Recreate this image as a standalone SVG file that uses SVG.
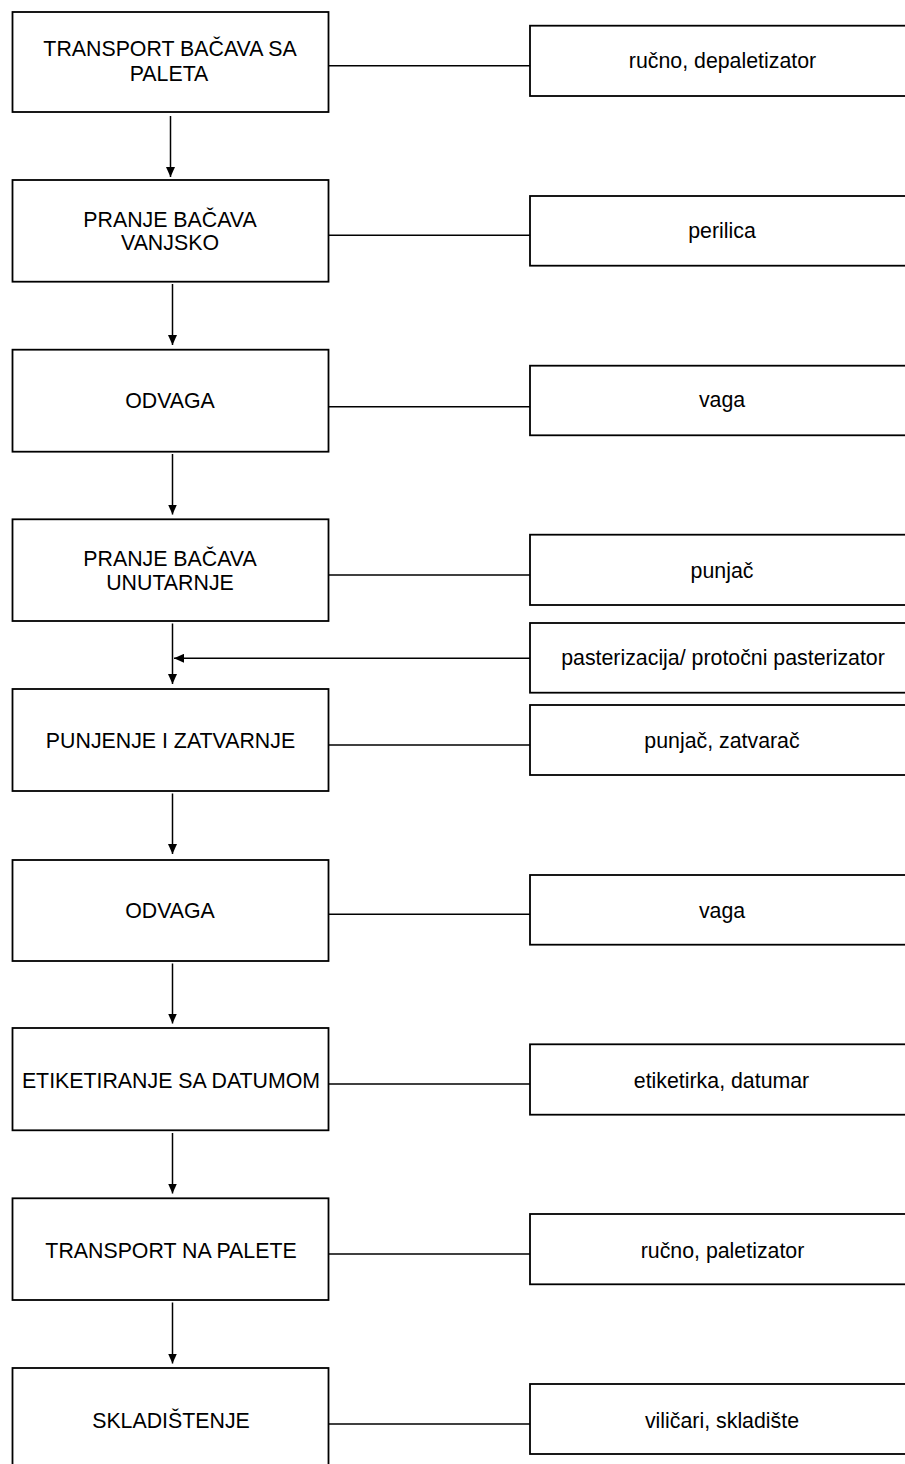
<svg xmlns="http://www.w3.org/2000/svg" width="905" height="1464" viewBox="0 0 905 1464">
<defs>
<style>
.box{fill:#fff;stroke:#000;stroke-width:1.8}
.ln{fill:none;stroke:#000;stroke-width:1.5}
.t{font-family:"Liberation Sans",Arial,sans-serif;font-size:21.33px;fill:#000;text-anchor:middle}
</style>
<marker id="ah" markerUnits="userSpaceOnUse" markerWidth="10" markerHeight="9" refX="10" refY="4.5" orient="auto" viewBox="0 0 10 9">
<path d="M0,0 L10,4.5 L0,9 z" fill="#000"/>
</marker>
</defs>
<rect width="905" height="1464" fill="#fff"/>
<g id="connectors">
<line class="ln" x1="328" y1="65.7" x2="530" y2="65.7"/>
<line class="ln" x1="328" y1="235.3" x2="530" y2="235.3"/>
<line class="ln" x1="328" y1="406.7" x2="530" y2="406.7"/>
<line class="ln" x1="328" y1="575" x2="530" y2="575"/>
<line class="ln" x1="328" y1="745" x2="530" y2="745"/>
<line class="ln" x1="328" y1="914.3" x2="530" y2="914.3"/>
<line class="ln" x1="328" y1="1084" x2="530" y2="1084"/>
<line class="ln" x1="328" y1="1254" x2="530" y2="1254"/>
<line class="ln" x1="328" y1="1424" x2="530" y2="1424"/>
<line class="ln" x1="170.5" y1="116" x2="170.5" y2="177" marker-end="url(#ah)"/>
<line class="ln" x1="172.5" y1="284" x2="172.5" y2="345" marker-end="url(#ah)"/>
<line class="ln" x1="172.5" y1="454" x2="172.5" y2="514.5" marker-end="url(#ah)"/>
<line class="ln" x1="172.5" y1="623.5" x2="172.5" y2="684" marker-end="url(#ah)"/>
<line class="ln" x1="530" y1="658.3" x2="174" y2="658.3" marker-end="url(#ah)"/>
<line class="ln" x1="172.5" y1="793.5" x2="172.5" y2="854" marker-end="url(#ah)"/>
<line class="ln" x1="172.5" y1="963.5" x2="172.5" y2="1023.5" marker-end="url(#ah)"/>
<line class="ln" x1="172.5" y1="1133" x2="172.5" y2="1193.5" marker-end="url(#ah)"/>
<line class="ln" x1="172.5" y1="1302.5" x2="172.5" y2="1363.5" marker-end="url(#ah)"/>
</g>
<g id="n1"><rect class="box" x="12.5" y="12" width="316" height="100"/><text class="t" x="170" y="56">TRANSPORT  BAČAVA SA</text><text class="t" x="169" y="80.7">PALETA</text></g>
<g id="n2"><rect class="box" x="12.5" y="180" width="316" height="101.7"/><text class="t" x="170" y="226.7">PRANJE  BAČAVA</text><text class="t" x="170" y="250">VANJSKO</text></g>
<g id="n3"><rect class="box" x="12.5" y="349.7" width="316" height="102"/><text class="t" x="170" y="408.3">ODVAGA</text></g>
<g id="n4"><rect class="box" x="12.5" y="519.3" width="316" height="101.7"/><text class="t" x="170" y="566">PRANJE  BAČAVA</text><text class="t" x="170" y="590">UNUTARNJE</text></g>
<g id="n5"><rect class="box" x="12.5" y="689" width="316" height="102"/><text class="t" x="170.5" y="747.7">PUNJENJE  I ZATVARNJE</text></g>
<g id="n6"><rect class="box" x="12.5" y="860" width="316" height="101"/><text class="t" x="170" y="917.7">ODVAGA</text></g>
<g id="n7"><rect class="box" x="12.5" y="1028" width="316" height="102.3"/><text class="t" x="171" y="1088.3">ETIKETIRANJE  SA DATUMOM</text></g>
<g id="n8"><rect class="box" x="12.5" y="1198.3" width="316" height="101.7"/><text class="t" x="171" y="1258.3">TRANSPORT  NA PALETE</text></g>
<g id="n9"><rect class="box" x="12.5" y="1368" width="316" height="102"/><text class="t" x="171" y="1428">SKLADIŠTENJE</text></g>
<g id="r1"><rect class="box" x="530" y="25.7" width="386" height="70.3"/><text class="t" x="722.5" y="68.3">ručno, depaletizator</text></g>
<g id="r2"><rect class="box" x="530" y="196" width="386" height="69.7"/><text class="t" x="722" y="238.3">perilica</text></g>
<g id="r3"><rect class="box" x="530" y="365.7" width="386" height="69.6"/><text class="t" x="722" y="407.3">vaga</text></g>
<g id="r4"><rect class="box" x="530" y="534.7" width="386" height="70.3"/><text class="t" x="722" y="578.3">punjač</text></g>
<g id="r5"><rect class="box" x="530" y="623" width="386" height="69.7"/><text class="t" x="723" y="665">pasterizacija/ protočni pasterizator</text></g>
<g id="r6"><rect class="box" x="530" y="705" width="386" height="70"/><text class="t" x="722" y="747.7">punjač, zatvarač</text></g>
<g id="r7"><rect class="box" x="530" y="875" width="386" height="69.7"/><text class="t" x="722" y="917.7">vaga</text></g>
<g id="r8"><rect class="box" x="530" y="1044.3" width="386" height="70.4"/><text class="t" x="721.5" y="1088.3">etiketirka,  datumar</text></g>
<g id="r9"><rect class="box" x="530" y="1214" width="386" height="70.3"/><text class="t" x="722.5" y="1258">ručno, paletizator</text></g>
<g id="r10"><rect class="box" x="530" y="1384" width="386" height="70"/><text class="t" x="722" y="1428">viličari, skladište</text></g>
</svg>
